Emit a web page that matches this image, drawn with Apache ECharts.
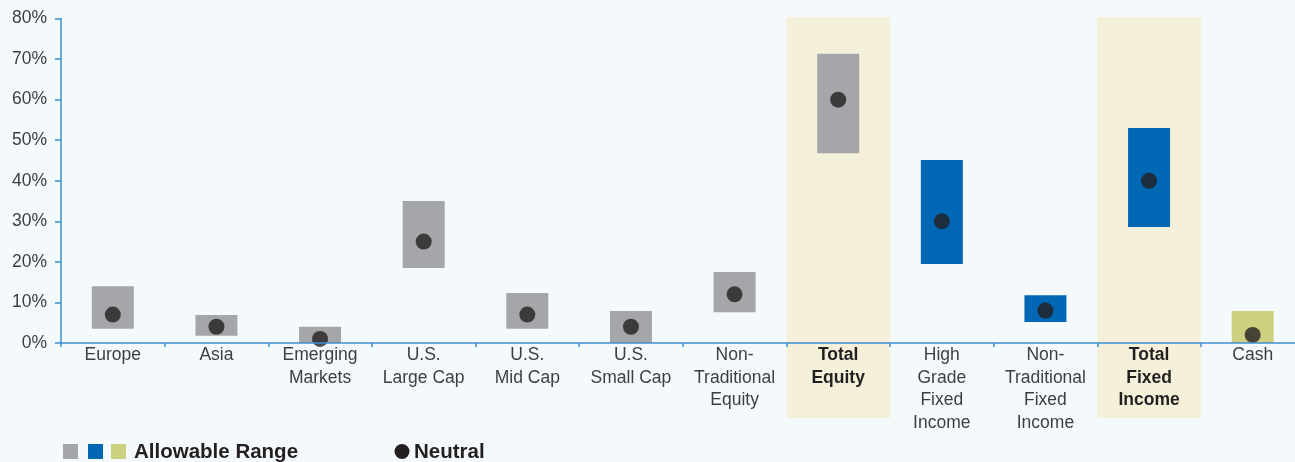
<!DOCTYPE html>
<html><head><meta charset="utf-8">
<script src="https://cdn.jsdelivr.net/npm/echarts@6/dist/echarts.min.js"></script>
<style>html,body{margin:0;padding:0;background:#f4f9fc;overflow:hidden;width:1295px;height:462px;}#c{width:1305px;height:462px;}</style>
</head><body><div id="c"></div>
<script>
const categories = ['Europe','Asia','Emerging\nMarkets','U.S.\nLarge Cap','U.S.\nMid Cap','U.S.\nSmall Cap','Non-\nTraditional\nEquity','Total\nEquity','High\nGrade\nFixed\nIncome','Non-\nTraditional\nFixed\nIncome','Total\nFixed\nIncome','Cash'];
const rangeLow  = [3.5, 1.8, 0, 18.5, 3.5, 0, 7.6, 46.8, 19.5, 5.2, 28.6, 0];
const rangeHigh = [14, 6.9, 4, 35, 12.3, 7.9, 17.5, 71.3, 45.1, 11.8, 53, 7.9];
const neutral   = [7, 4, 1, 25, 7, 4, 12, 60, 30, 8, 40, 2];
const assetGroup = ['equity','equity','equity','equity','equity','equity','equity','equity','fixed','fixed','fixed','cash'];
const totalCats = ['Total\nEquity','Total\nFixed\nIncome'];
const yTicks = [0,10,20,30,40,50,60,70,80];

const groupColor = {equity:'#a5a6a9', fixed:'#0067b4', cash:'#ccd07f'};
const bandIdx = totalCats.map(c => categories.indexOf(c));

const chart = echarts.init(document.getElementById('c'), null, {renderer:'canvas'});
chart.setOption({
  backgroundColor:'#f4f9fc',
  animation:false,
  grid:{left:61, top:18.5, right:0.5, bottom:119},
  xAxis:{
    type:'category', data:categories, z:5,
    axisLine:{lineStyle:{color:'#3d8fd1', width:1.5}},
    axisTick:{show:true, length:4, lineStyle:{color:'#3d8fd1', width:1.5}},
    axisLabel:{
      margin:1, interval:0,
      formatter:function(v){ return totalCats.indexOf(v)>=0 ? '{b|'+v.split('\n').join('}\n{b|')+'}' : v; },
      fontFamily:'Liberation Sans, Arial, sans-serif', fontSize:17.5, color:'#3e3e40', lineHeight:22.5,
      rich:{b:{fontWeight:'bold', color:'#231f20', fontSize:17.5, lineHeight:22.5, fontFamily:'Liberation Sans, Arial, sans-serif'}}
    },
    splitLine:{show:false}
  },
  yAxis:{
    type:'value', min:0, max:80, interval:10, z:5,
    axisLine:{show:true, lineStyle:{color:'#3d8fd1', width:1.5}},
    axisTick:{show:true, length:6, lineStyle:{color:'#3d8fd1', width:1.5}},
    splitLine:{show:false},
    axisLabel:{margin:14, formatter:function(v){return yTicks.indexOf(v)>=0? v+'%':'';}, fontFamily:'Liberation Sans, Arial, sans-serif', fontSize:17.5, color:'#3e3e40'}
  },
  series:[
    {
      type:'custom', z:1, clip:false, silent:true,
      data: bandIdx.map(i => [i, 80.4]),
      renderItem:function(params, api){
        const i = api.value(0);
        const top = api.coord([i, api.value(1)]);
        const base = api.coord([i, 0]);
        const w = api.size([1,0])[0];
        return {type:'rect', shape:{x:top[0]-w/2, y:top[1], width:w, height:base[1]-top[1]+75}, style:{fill:'#f5f0d9'}};
      }
    },
    {
      type:'custom', z:2,
      data: categories.map((c,i)=>[i, rangeLow[i], rangeHigh[i]]),
      renderItem:function(params, api){
        const i = api.value(0);
        const lo = api.coord([i, api.value(1)]);
        const hi = api.coord([i, api.value(2)]);
        const bw = 42;
        return {type:'rect', shape:{x:lo[0]-bw/2, y:hi[1], width:bw, height:lo[1]-hi[1]}, style:{fill:groupColor[assetGroup[i]]}};
      }
    },
    {
      type:'scatter', z:3, symbol:'circle', symbolSize:16,
      itemStyle:{color:'#231f20'},
      data: neutral.map((v,i)=>[i,v])
    }
  ],
  graphic:[
    {type:'rect', left:63, top:444, shape:{width:15, height:15}, style:{fill:groupColor.equity}},
    {type:'rect', left:88, top:444, shape:{width:15, height:15}, style:{fill:groupColor.fixed}},
    {type:'rect', left:111, top:444, shape:{width:15, height:15}, style:{fill:groupColor.cash}},
    {type:'text', left:134, top:442, style:{text:'Allowable Range', fontFamily:'Liberation Sans, Arial, sans-serif', fontWeight:'bold', fontSize:20.5, fill:'#231f20'}},
    {type:'circle', shape:{cx:402, cy:451.5, r:7.5}, style:{fill:'#231f20'}},
    {type:'text', left:414, top:442, style:{text:'Neutral', fontFamily:'Liberation Sans, Arial, sans-serif', fontWeight:'bold', fontSize:20.5, fill:'#231f20'}}
  ]
});
</script></body></html>
